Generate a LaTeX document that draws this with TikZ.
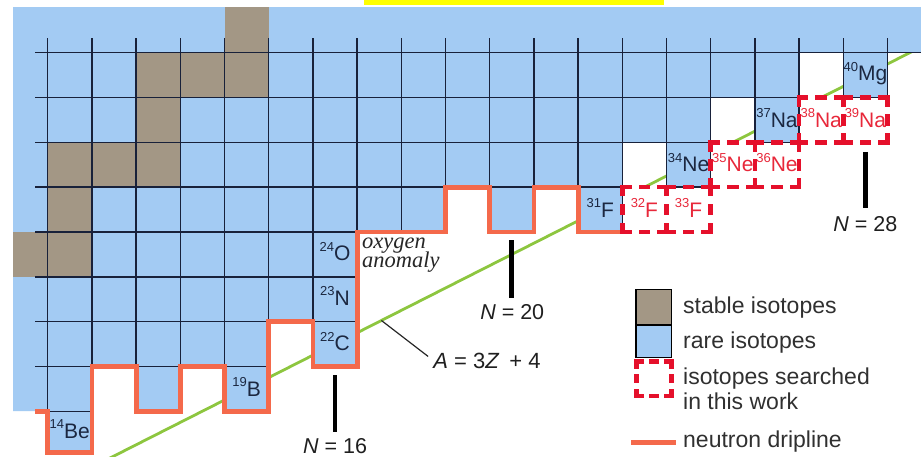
\documentclass[tikz,border=0pt]{standalone}
\usepackage{fontspec}
\setmainfont{Liberation Sans}
\newfontfamily\oxyfont{Liberation Serif}
\definecolor{rareblue}{HTML}{A3CBF3}
\definecolor{stablegray}{HTML}{A39785}
\definecolor{gridc}{HTML}{18213A}
\definecolor{dripc}{HTML}{F4694B}
\definecolor{searchred}{HTML}{E5102B}
\definecolor{redtext}{HTML}{E8283A}
\definecolor{greenl}{HTML}{8DC63F}
\definecolor{navy}{HTML}{1B2740}
\definecolor{yellowbar}{HTML}{FFFF00}
\definecolor{legtext}{HTML}{303030}
\newcommand\iso[2]{\raisebox{9.5pt}{\fontsize{13}{13}\selectfont #1}#2}
\begin{document}
\begin{tikzpicture}[x=44.2pt,y=44.8pt,
  gridl/.style={draw=gridc,line width=1.4pt},
  drip/.style={draw=dripc,line width=4.8pt,line join=miter},
  greenline/.style={draw=greenl,line width=2.8pt},
  sboxh/.style={draw=searchred,line width=4.5pt,line cap=rect,dash pattern=on 7pt off 11.6pt},
  sboxv/.style={draw=searchred,line width=4.5pt,line cap=rect,dash pattern=on 7pt off 11.9pt},
  legdashh/.style={draw=searchred,line width=4.5pt,line cap=rect,dash pattern=on 5pt off 9.95pt},
  legdashv/.style={draw=searchred,line width=4.5pt,line cap=rect,dash pattern=on 5pt off 9.65pt},
  clab/.style={font=\fontsize{21}{21}\selectfont,text=navy,inner sep=0pt,anchor=base},
  rlab/.style={font=\fontsize{21}{21}\selectfont,text=redtext,inner sep=0pt,anchor=base},
  nlab/.style={font=\fontsize{21.5}{21.5}\selectfont,text=black!88,inner sep=0pt,anchor=base},
  nbar/.style={draw=black,line width=4.8pt},
  legl/.style={font=\fontsize{23}{23}\selectfont,text=legtext,inner sep=0pt,anchor=base west},
  oxy/.style={font=\oxyfont\itshape\fontsize{22.5}{22.5}\selectfont,text=black!85,inner sep=0pt,anchor=base west}
]
\useasboundingbox (-1.0792,0) rectangle (19.7579,10.1786);
% yellow bar
\fill[yellowbar] (7.156,10.067) rectangle (13.943,10.1786);
% green line A = 3Z + 4
\coordinate (gstart) at (1.36,-0.07);
\coordinate (gend) at (19.7,9.1);
\draw[greenline] (gstart) -- (gend);
% rare isotopes region
\fill[rareblue] (-0.785,10.022) -- (19.7579,10.022) -- (19.7579,9) -- (19,9) -- (19,8) -- (18,8) -- (18,9)
  -- (17,9) -- (17,7) -- (16,7) -- (16,8) -- (15,8) -- (15,6) -- (14,6) -- (14,7) -- (13,7) -- (13,5)
  -- (12,5) -- (12,6) -- (11,6) -- (11,5) -- (10,5) -- (10,6) -- (9,6) -- (9,5) -- (7,5) -- (7,2)
  -- (6,2) -- (6,3) -- (5,3) -- (5,1) -- (4,1) -- (4,2) -- (3,2) -- (3,1) -- (2,1) -- (2,2) -- (1,2)
  -- (1,0.07) -- (0,0.07) -- (0,1) -- (-0.785,1) -- cycle;
% stable isotopes
\fill[stablegray] (4,9) rectangle (5,10.022);
\fill[stablegray] (2,8) rectangle (5,9);
\fill[stablegray] (2,7) rectangle (3,8);
\fill[stablegray] (0,6) rectangle (3,7);
\fill[stablegray] (0,5) rectangle (1,6);
\fill[stablegray] (-0.785,4) rectangle (1,5);
% searched boxes background
\foreach \x/\y in {13/5,14/5,15/6,16/6,17/7,18/7}{
  \fill[white] (\x,\y) rectangle ++(1,1);
}
% grid lines
\draw[gridl] (-0.287,9) -- (19.7579,9);
\draw[gridl] (-0.287,8) -- (17,8) (18,8) -- (19,8);
\draw[gridl] (-0.287,7) -- (15,7) (16,7) -- (17,7);
\draw[gridl] (-0.287,6) -- (13,6) (14,6) -- (15,6);
\draw[gridl] (-0.287,5) -- (7,5);
\draw[gridl] (-0.287,4) -- (7,4);
\draw[gridl] (-0.287,3) -- (7,3);
\draw[gridl] (-0.287,2) -- (5,2) (6,2) -- (7,2);
\draw[gridl] (-0.287,1) -- (1,1);
\foreach \x/\b in {0/1,1/2,2/2,3/2,4/2,5/3,6/3,7/5,8/5,9/6,10/6,11/6,12/6,13/5,14/6,15/6,16/7,17/7,18/8,19/8}{
  \draw[gridl] (\x,\b) -- (\x,9.33);
}
% neutron dripline
\draw[drip] (-0.287,1) -- (0,1) -- (0,0.07) -- (1,0.07) -- (1,2) -- (2,2) -- (2,1) -- (3,1) -- (3,2)
  -- (4,2) -- (4,1) -- (5,1) -- (5,3) -- (6,3) -- (6,2) -- (7,2) -- (7,5) -- (9,5) -- (9,6) -- (10,6)
  -- (10,5) -- (11,5) -- (11,6) -- (12,6) -- (12,5) -- (13,5);
% searched boxes outlines
\foreach \x/\y in {13/5,14/5,15/6,16/6,17/7,18/7}{
  \draw[sboxh] (\x,\y) -- ++(1,0);
  \draw[sboxh] (\x,\y+1) -- ++(1,0);
  \draw[sboxv] (\x,\y) -- ++(0,1);
  \draw[sboxv] (\x+1,\y) -- ++(0,1);
}
% isotope labels
\node[clab] (l14Be) at (0.5,0.40) {\iso{14}{Be}};
\node[clab] (l19B) at (4.5,1.33) {\iso{19}{B}};
\node[clab] (l22C) at (6.5,2.35) {\iso{22}{C}};
\node[clab] (l23N) at (6.5,3.36) {\iso{23}{N}};
\node[clab] (l24O) at (6.5,4.36) {\iso{24}{O}};
\node[clab] (l31F) at (12.5,5.33) {\iso{31}{F}};
\node[clab] (l34Ne) at (14.5,6.35) {\iso{34}{Ne}};
\node[clab] (l37Na) at (16.5,7.34) {\iso{37}{Na}};
\node[clab] (l40Mg) at (18.5,8.38) {\iso{40}{Mg}};
\node[rlab] (l32F) at (13.5,5.33) {\iso{32}{F}};
\node[rlab] (l33F) at (14.5,5.33) {\iso{33}{F}};
\node[rlab] (l35Ne) at (15.5,6.35) {\iso{35}{Ne}};
\node[rlab] (l36Ne) at (16.5,6.35) {\iso{36}{Ne}};
\node[rlab] (l38Na) at (17.5,7.34) {\iso{38}{Na}};
\node[rlab] (l39Na) at (18.5,7.34) {\iso{39}{Na}};
% oxygen anomaly
\node[oxy] (oxya) at (7.11,4.64) {oxygen};
\node[oxy] (oxyb) at (7.11,4.21) {anomaly};
% magic number bars and labels
\coordinate (b16t) at (6.5,1.808);
\coordinate (b16b) at (6.5,0.536);
\draw[nbar] (b16t) -- (b16b);
\node[nlab] (n16) at (6.5,0.065) {\textit{N} = 16};
\coordinate (b20t) at (10.5,4.82);
\coordinate (b20b) at (10.5,3.527);
\draw[nbar] (b20t) -- (b20b);
\node[nlab] (n20) at (10.51,3.036) {\textit{N} = 20};
\coordinate (b28t) at (18.5,6.79);
\coordinate (b28b) at (18.5,5.53);
\draw[nbar] (b28t) -- (b28b);
\node[nlab] (n28) at (18.5,5.007) {\textit{N} = 28};
% A = 3Z+4 label with leader
\node[font=\fontsize{22}{22}\selectfont,text=black!88,inner sep=0pt,anchor=base west] (labA) at (8.72,1.964) {\textit{A} = 3\textit{Z}\hspace{4pt} + 4};
\coordinate (leadA) at (7.55,3.025);
\draw[black!85,line width=1.2pt] (leadA) -- ([xshift=-5pt,yshift=-4pt]labA.north west);
% legend
\draw[fill=stablegray,draw=black,line width=1.2pt] (13.31,2.924) rectangle (14.12,3.721);
\draw[fill=rareblue,draw=black,line width=1.2pt] (13.31,2.203) rectangle (14.12,2.924);
\draw[legdashh] (13.32,1.344) -- (14.11,1.344);
\draw[legdashh] (13.32,2.109) -- (14.11,2.109);
\draw[legdashv] (13.32,1.344) -- (13.32,2.109);
\draw[legdashv] (14.11,1.344) -- (14.11,2.109);
\draw[draw=dripc,line width=4.8pt] (13.2,0.297) -- (14.22,0.297);
\node[legl] (lg1) at (14.373,3.185) {stable isotopes};
\node[legl] (lg2) at (14.373,2.404) {rare isotopes};
\node[legl] (lg3) at (14.373,1.585) {isotopes searched};
\node[legl] (lg4) at (14.373,1.027) {in this work};
\node[legl] (lg5) at (14.373,0.185) {neutron dripline};
\end{tikzpicture}
\end{document}
